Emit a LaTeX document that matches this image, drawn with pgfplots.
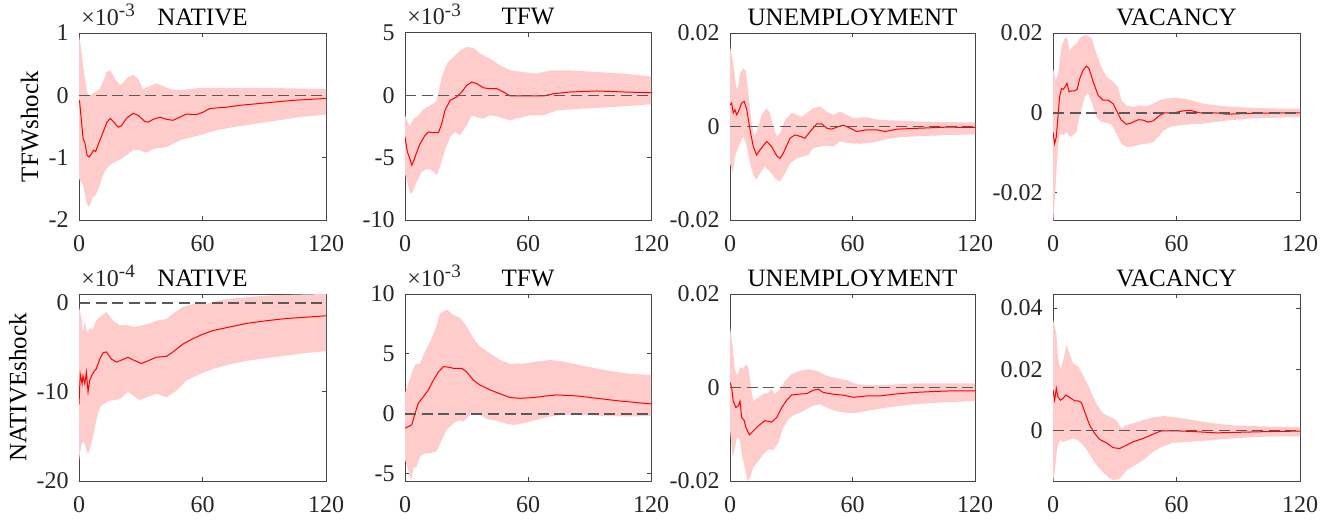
\documentclass[border=0pt]{standalone}
\usepackage{pgfplots}
\pgfplotsset{compat=1.18}
\usepgfplotslibrary{fillbetween}
\usepackage{fontspec}
\setmainfont{Liberation Serif}
\definecolor{bandpink}{RGB}{255,204,204}
\definecolor{axgray}{RGB}{70,70,70}
\pgfplotsset{
  irf/.style={
    scale only axis, height=93.5pt,
    xmin=0, xmax=120, xtick={0,60,120},
    axis line style={axgray, line width=0.5pt},
    tick style={axgray, line width=0.5pt},
    tick align=inside, major tick length=2pt,
    every tick label/.append style={font=\fontsize{12}{14}\selectfont, text=black!85, inner sep=0pt},
    xticklabel shift=7.5pt, yticklabel shift=5pt,
    scaled y ticks=false, scaled x ticks=false,
    /pgf/number format/assume math mode=true,
    every axis title/.style={font=\fontsize{12.5}{15}\selectfont, at={(axis description cs:0.5,1)}, anchor=base, yshift=4pt, inner sep=0pt},
    ylabel style={font=\fontsize{12.5}{15}\selectfont, anchor=base, inner sep=0pt},
  },
  zeroline/.style={black!65, line width=0.8pt, dash pattern=on 5.5pt off 2.8pt},
  medline/.style={red, line width=0.5pt},
  expo/.style={extra description/.code={
    \node[anchor=base west, inner sep=0pt, font=\fontsize{12}{14}\selectfont, text=black!85]
      at (axis description cs:0,1) [xshift=1pt, yshift=4pt] {×10\raisebox{4.2pt}{\fontsize{9.5}{11}\selectfont -#1}};}},
}
\begin{document}
\begin{tikzpicture}

% ---------------- Row 1: TFW shock ----------------
\begin{axis}[irf, at={(39.5pt,150.5pt)}, width=123.5pt, title={NATIVE}, ylabel={TFWshock},
  ylabel style={at={(axis description cs:-0.166,0.5)}},
  ymin=-2, ymax=1, ytick={-2,-1,0,1}, yticklabels={-2,-1,0,1}, expo=3]
\addplot[name path=U, draw=none] coordinates {(0,0.96) (1,0.75) (2,0.48) (3,0.25) (4,0.05) (5,-0.02) (6,0.02) (8,0.05) (10,0.1) (11.5,0.2) (13.3,0.37) (15,0.4) (16.5,0.33) (17.4,0.27) (19.8,0.17) (21.5,0.2) (23,0.27) (26.3,0.33) (28.7,0.27) (31,0.1) (34.4,0.15) (37.6,0.19) (40.9,0.15) (44,0.1) (49,0.08) (58.7,0.12) (75,0.12) (91,0.12) (120,0.1)};
\addplot[name path=L, draw=none] coordinates {(0,-1.34) (2,-1.44) (3.6,-1.71) (4.4,-1.79) (5.5,-1.75) (6.8,-1.63) (8,-1.6) (9.2,-1.52) (10.5,-1.4) (11.7,-1.28) (13.3,-1.18) (15,-1.12) (17.4,-1.07) (20.6,-1.02) (23,-0.96) (26.3,-0.88) (29.5,-0.88) (32.8,-0.92) (36,-0.86) (42.5,-0.83) (49,-0.72) (58.7,-0.64) (66.8,-0.56) (75,-0.51) (91,-0.43) (107,-0.35) (120,-0.31)};
\addplot[bandpink, draw=none] fill between[of=U and L];
\addplot[medline] coordinates {(0,-0.08) (0.3,-0.1) (2,-0.7) (2.8,-0.75) (3.9,-0.96) (4.9,-0.99) (6,-0.94) (7.1,-0.88) (8.1,-0.9) (9.2,-0.8) (11.7,-0.59) (13.6,-0.43) (15.2,-0.37) (16.9,-0.43) (19,-0.51) (20.6,-0.49) (23,-0.37) (26.3,-0.29) (28.7,-0.32) (32,-0.42) (33.6,-0.43) (36,-0.385) (39.3,-0.35) (42.5,-0.385) (45.7,-0.4) (49,-0.35) (52.2,-0.3) (57,-0.31) (60.3,-0.27) (63.6,-0.21) (71.7,-0.19) (78.2,-0.16) (91.2,-0.12) (104,-0.08) (120,-0.05)};
\addplot[zeroline] coordinates {(0,0) (120,0)};
\end{axis}

\begin{axis}[irf, at={(202.5pt,150.5pt)}, width=123pt, title={TFW},
  ymin=-10, ymax=5, ytick={-10,-5,0,5}, yticklabels={-10,-5,0,5}, expo=3]
\addplot[name path=U, draw=none] coordinates {(0,-1.6) (1.2,-2.1) (2.4,-2.5) (4,-1.9) (6.5,-1.6) (8.5,-1.2) (10.6,-0.94) (13.8,-0.67) (15.5,-0.4) (17.9,1.47) (20.4,2.54) (23.6,3.07) (26.9,3.6) (30.1,3.88) (33.4,3.8) (36.6,3.34) (41.5,2.94) (46.4,2.4) (51.3,2.0) (57.8,1.87) (64.3,1.74) (70.8,2.0) (80.6,2.0) (93.6,1.87) (106.6,1.74) (120,1.52)};
\addplot[name path=L, draw=none] coordinates {(0,-6.3) (2.4,-7.75) (3.3,-7.9) (5.7,-6.95) (8.1,-6.15) (10.6,-5.9) (13,-6.0) (15.5,-6.4) (17,-5.75) (19.5,-4.4) (22,-3.34) (24.4,-2.94) (26.9,-3.2) (30.1,-2.4) (32.6,-1.6) (35,-1.74) (38.3,-1.87) (41.5,-1.6) (44.8,-1.68) (48,-1.87) (51.3,-2.0) (54.5,-1.87) (61,-1.6) (67.6,-1.6) (74,-1.2) (87,-1.07) (106.6,-0.88) (120,-0.72)};
\addplot[bandpink, draw=none] fill between[of=U and L];
\addplot[medline] coordinates {(0,-3.34) (1.1,-4.5) (2.4,-5.1) (3.3,-5.6) (4.4,-5.2) (5.4,-4.7) (7.3,-3.9) (9.8,-3.2) (11.4,-2.94) (13.8,-3.0) (16.3,-3.0) (17.9,-2.3) (19.5,-1.2) (22,-0.4) (25.2,-0.13) (27.7,0.27) (30.1,0.8) (32.6,1.07) (35,0.94) (38.3,0.6) (41.5,0.53) (44.8,0.53) (48,0.27) (51.3,-0.05) (54.5,-0.05) (61,-0.05) (67.6,-0.05) (72.4,0.13) (80.6,0.27) (93.6,0.35) (106.6,0.27) (120,0.21)};
\addplot[zeroline] coordinates {(0,0) (120,0)};
\end{axis}

\begin{axis}[irf, at={(365pt,150.5pt)}, width=122.5pt, title={UNEMPLOYMENT},
  ymin=-0.02, ymax=0.02, ytick={-0.02,0,0.02}, yticklabels={-0.02,0,0.02}]
\addplot[name path=U, draw=none] coordinates {(0,17.1e-3) (1.6,13.6e-3) (2.9,8.6e-3) (3.8,7.9e-3) (4.9,11.4e-3) (6.5,12.5e-3) (7.8,11.8e-3) (9,7.1e-3) (10.6,0.7e-3) (11.9,-2.1e-3) (13,-1.1e-3) (15.5,2.5e-3) (18,3.9e-3) (19.6,2.9e-3) (21.2,0) (22.9,-2.1e-3) (24.5,-1.4e-3) (27,1.4e-3) (30.2,2.9e-3) (32.7,2.5e-3) (35.1,2.1e-3) (37.6,2.9e-3) (40.8,3.9e-3) (44.1,4.3e-3) (47.4,3.2e-3) (50.6,2.5e-3) (53.9,3.2e-3) (57.1,2.5e-3) (60.4,1.8e-3) (67,2.0e-3) (73.5,1.4e-3) (80,1.3e-3) (93,1.07e-3) (106,0.93e-3) (120,0.86e-3)};
\addplot[name path=L, draw=none] coordinates {(0,-7.9e-3) (1.3,-10e-3) (2.4,-6.4e-3) (3.6,-5.0e-3) (4.9,-3.6e-3) (6.5,-2.1e-3) (8.2,-4.3e-3) (9.8,-7.9e-3) (11.4,-10.4e-3) (13,-11.4e-3) (14.7,-10e-3) (17.1,-8.6e-3) (19.6,-9.6e-3) (22,-11.1e-3) (24.5,-11.8e-3) (27,-10e-3) (29.4,-7.9e-3) (32.7,-6.8e-3) (35.9,-6.4e-3) (38.4,-6.1e-3) (40.8,-4.6e-3) (44.1,-4.3e-3) (47.4,-4.1e-3) (50.6,-4.3e-3) (53.9,-3.2e-3) (58.8,-3.6e-3) (63.7,-3.7e-3) (70.2,-3.4e-3) (76.7,-2.7e-3) (83.3,-2.3e-3) (96.3,-2.0e-3) (109,-1.8e-3) (120,-1.7e-3)};
\addplot[bandpink, draw=none] fill between[of=U and L];
\addplot[medline] coordinates {(0,4.6e-3) (0.8,5.0e-3) (1.6,2.9e-3) (2.4,3.6e-3) (3.3,2.5e-3) (4.1,3.2e-3) (5.7,5.0e-3) (6.9,5.4e-3) (8.2,3.6e-3) (9.8,-0.7e-3) (11.4,-4.3e-3) (13,-6.1e-3) (14.7,-5.0e-3) (18,-3.2e-3) (20.4,-4.3e-3) (22.9,-6.3e-3) (24.5,-6.8e-3) (26.1,-5.7e-3) (29.4,-2.5e-3) (31.8,-1.8e-3) (34.3,-2.1e-3) (36.7,-2.5e-3) (39.2,-1.1e-3) (42.5,0.57e-3) (44.9,0.57e-3) (47.4,-0.36e-3) (49.8,-0.57e-3) (52.3,-0.14e-3) (55.5,0.29e-3) (58.8,-0.36e-3) (62,-1.07e-3) (67,-0.7e-3) (71.8,-0.7e-3) (76,-1.07e-3) (81.6,-0.57e-3) (93,-0.36e-3) (106,-0.14e-3) (120,-0.2e-3)};
\addplot[zeroline] coordinates {(0,0) (120,0)};
\end{axis}

\begin{axis}[irf, at={(526.5pt,150.5pt)}, width=123.5pt, title={VACANCY},
  ymin=-0.0268, ymax=0.02, ytick={-0.02,0,0.02}, yticklabels={-0.02,0,0.02}]
\addplot[name path=U, draw=none] coordinates {(0,11.1e-3) (1.3,8.2e-3) (2.4,9.5e-3) (4.1,16.6e-3) (5.7,18.7e-3) (6.8,18.7e-3) (8.1,15.7e-3) (9.7,16.6e-3) (11.4,17.4e-3) (13.8,19.1e-3) (16.2,19.5e-3) (18.7,18.7e-3) (21.1,14.9e-3) (23.5,11.5e-3) (26,9.0e-3) (29.2,7.8e-3) (31.6,6.5e-3) (33.2,3.2e-3) (35.7,1.9e-3) (38.9,1.5e-3) (42.2,1.9e-3) (45.4,1.7e-3) (48.6,2.3e-3) (51.9,3.2e-3) (55.1,3.6e-3) (60,3.8e-3) (66.5,3.3e-3) (73,2.3e-3) (82.7,1.7e-3) (95.7,1.3e-3) (108.6,1.1e-3) (120,1.1e-3)};
\addplot[name path=L, draw=none] coordinates {(0,-28e-3) (0.8,-22e-3) (1.6,-15.2e-3) (2.4,-8.5e-3) (3.2,-5.2e-3) (4.9,-5.6e-3) (6.5,-4.8e-3) (8.1,-6.0e-3) (9.7,-5.6e-3) (11.4,-4.8e-3) (13,-0.6e-3) (15.4,4.0e-3) (17,4.9e-3) (18.7,2.8e-3) (21.1,-1.0e-3) (23.5,-2.3e-3) (26,-2.5e-3) (28.4,-2.85e-3) (30.8,-5.2e-3) (33.2,-7.7e-3) (35.7,-8.5e-3) (38.9,-8.4e-3) (42.2,-7.9e-3) (45.4,-7.7e-3) (48.6,-7.3e-3) (51.1,-6.0e-3) (53.5,-4.5e-3) (56.8,-3.5e-3) (61.6,-3.1e-3) (66.5,-2.85e-3) (73,-2.7e-3) (82.7,-2.0e-3) (95.7,-1.4e-3) (108.6,-1.2e-3) (120,-1.0e-3)};
\addplot[bandpink, draw=none] fill between[of=U and L];
\addplot[medline] coordinates {(0,-4.8e-3) (0.8,-7.7e-3) (1.6,-6.0e-3) (2.4,-1.0e-3) (3.2,4.0e-3) (4.1,6.1e-3) (4.9,5.9e-3) (5.7,6.4e-3) (6.8,7.4e-3) (7.8,5.3e-3) (8.9,5.5e-3) (10.5,5.5e-3) (11.7,5.9e-3) (13,8.6e-3) (14.6,10.7e-3) (16.2,11.7e-3) (17.5,11.1e-3) (19.5,7.8e-3) (21.9,4.4e-3) (24.3,3.2e-3) (26.8,3.2e-3) (29.2,2.3e-3) (30.8,0.67e-3) (33.2,-1.8e-3) (35.7,-2.85e-3) (38.1,-2.5e-3) (41.4,-1.7e-3) (43.8,-1.8e-3) (46.2,-2.3e-3) (48.6,-2.0e-3) (51.9,-0.6e-3) (54.3,0) (58.4,0) (63.2,0.5e-3) (66.5,0.67e-3) (71.4,0) (79.5,0) (84.3,-0.33e-3) (92.5,-0.17e-3) (107,0) (120,0)};
\addplot[zeroline] coordinates {(0,0) (120,0)};
\end{axis}

% ---------------- Row 2: NATIVE shock ----------------
\begin{axis}[irf, at={(39.5pt,20pt)}, width=123.5pt, title={NATIVE}, ylabel={NATIVEshock},
  ylabel style={at={(axis description cs:-0.213,0.5)}},
  ymin=-20, ymax=1, ytick={-20,-10,0}, yticklabels={-20,-10,0}, expo=4]
\addplot[name path=U, draw=none] coordinates {(0,-0.45) (1.1,-1.6) (1.9,-3.3) (2.8,-2.1) (3.9,-3.3) (5.2,-2.9) (6.8,-2.9) (8.4,-2.0) (10.1,-1.6) (13.3,-1.0) (16.5,-2.0) (19.8,-2.5) (23,-2.5) (27,-2.7) (31.1,-2.5) (34.4,-2.3) (37.6,-2.0) (42.5,-1.8) (45.7,-1.2) (50.6,-0.45) (55.5,-0.1) (62,-0.1) (68.4,0.3) (75,0.5) (84.6,0.7) (94.4,0.86) (107.3,0.94) (120,1.0)};
\addplot[name path=L, draw=none] coordinates {(0,-17.7) (1.1,-15.9) (2.3,-15.5) (3.2,-16.2) (4.4,-17.0) (5.5,-16.2) (6.8,-15.1) (8.4,-13.2) (10.1,-11.7) (11.7,-11.4) (15,-11.0) (19.8,-10.8) (23.8,-10.0) (26.3,-10.4) (29.5,-10.9) (32.8,-10.6) (37.6,-10.2) (42.5,-10.6) (47.4,-9.85) (52.2,-8.7) (58.7,-8.0) (65.2,-7.4) (75,-6.8) (84.6,-6.4) (94.4,-6.1) (107.3,-5.7) (120,-5.4)};
\addplot[bandpink, draw=none] fill between[of=U and L];
\addplot[medline] coordinates {(0,-11.4) (0.6,-8.0) (1.5,-9.1) (1.9,-8.2) (2.8,-9.1) (3.6,-7.8) (4.4,-10.0) (5.2,-8.7) (6.5,-8.0) (7.6,-7.6) (8.4,-7.4) (10.1,-6.3) (11.7,-5.6) (13.3,-5.5) (15.7,-6.3) (18.2,-6.65) (21.4,-6.35) (23.8,-6.1) (26.3,-6.4) (30.3,-6.8) (33.6,-6.5) (37.6,-6.1) (42.5,-6.0) (45.7,-5.5) (50.6,-4.6) (55.5,-4.0) (60.3,-3.5) (65.2,-3.1) (73.3,-2.7) (81.4,-2.3) (91.1,-2.0) (100.8,-1.75) (110.5,-1.6) (120,-1.45)};
\addplot[zeroline] coordinates {(0,0) (120,0)};
\end{axis}

\begin{axis}[irf, at={(202.5pt,20pt)}, width=123pt, title={TFW},
  ymin=-5.6, ymax=10, ytick={-5,0,5,10}, yticklabels={-5,0,5,10}, expo=3]
\addplot[name path=U, draw=none] coordinates {(0,1.7) (1.6,2.55) (3.3,3.4) (4.9,4.1) (7.3,4.2) (9.8,5.2) (12.2,6.0) (14.7,7.0) (17.1,8.4) (20.4,8.7) (23.6,8.25) (26.9,8.0) (30.1,7.3) (33.4,6.3) (36.6,5.6) (41.5,5.05) (46.4,4.5) (51.3,4.17) (57.8,4.2) (64.3,4.36) (70.8,4.5) (77.3,4.36) (87.1,4.0) (96.9,3.67) (109.9,3.33) (120,3.25)};
\addplot[name path=L, draw=none] coordinates {(0,-3.8) (1.6,-4.7) (2.9,-5.6) (4.1,-4.5) (5.7,-4.4) (7.3,-3.55) (9.8,-3.3) (12.2,-3.3) (15.5,-3.1) (17.9,-2.2) (20.4,-1.3) (23.6,-0.8) (26,-0.55) (28.5,-0.64) (30.9,-0.22) (33.4,0.05) (36.6,-0.08) (39.9,-0.44) (44.8,-0.58) (49.7,-0.83) (52.9,-0.92) (57.8,-0.78) (64.3,-0.5) (70.8,-0.22) (77.3,-0.08) (87.1,-0.08) (96.9,-0.17) (109.9,-0.22) (120,-0.17)};
\addplot[bandpink, draw=none] fill between[of=U and L];
\addplot[medline] coordinates {(0,-1.2) (2.4,-1.0) (3.3,-0.9) (4.9,0.05) (6.5,0.9) (9,1.44) (11.4,2.0) (13.8,2.8) (16.3,3.5) (18.7,3.94) (21.2,3.9) (23.6,3.8) (27.7,3.8) (30.1,3.5) (33.4,2.8) (36.6,2.4) (41.5,2.0) (46.4,1.67) (51.3,1.36) (56.2,1.3) (62.7,1.36) (69.2,1.5) (74,1.58) (83.8,1.5) (93.6,1.3) (103.4,1.1) (113,0.94) (120,0.83)};
\addplot[zeroline] coordinates {(0,0) (120,0)};
\end{axis}

\begin{axis}[irf, at={(365pt,20pt)}, width=122.5pt, title={UNEMPLOYMENT},
  ymin=-0.02, ymax=0.02, ytick={-0.02,0,0.02}, yticklabels={-0.02,0,0.02}]
\addplot[name path=U, draw=none] coordinates {(0,12.9e-3) (1.3,8.6e-3) (2.4,3.9e-3) (3.6,2.5e-3) (4.9,4.3e-3) (6.5,4.1e-3) (7.8,5.0e-3) (9,4.3e-3) (10.1,0.7e-3) (11.4,-2.9e-3) (13.9,-2.1e-3) (16.3,-1.4e-3) (18.8,-1.07e-3) (20.4,-0.36e-3) (22,-1.4e-3) (24.5,-0.36e-3) (26.9,1.4e-3) (30.2,2.9e-3) (34.3,3.6e-3) (38.4,3.9e-3) (42.5,3.6e-3) (47.4,2.5e-3) (52.2,2.0e-3) (57.1,1.6e-3) (62,0.7e-3) (67,0.57e-3) (76.7,0.57e-3) (89.8,0.86e-3) (102.9,0.86e-3) (120,0.86e-3)};
\addplot[name path=L, draw=none] coordinates {(0,-9e-3) (1.3,-15e-3) (2.4,-12.9e-3) (3.6,-10.4e-3) (4.9,-11.4e-3) (5.7,-14.3e-3) (7.3,-17.1e-3) (8.5,-20e-3) (9.8,-19.3e-3) (11.4,-17.1e-3) (13.9,-15.7e-3) (16.3,-14.3e-3) (18.8,-13.2e-3) (21.2,-13.4e-3) (23.7,-11.8e-3) (26.1,-8.6e-3) (28.6,-6.8e-3) (31,-5.9e-3) (34.3,-5.4e-3) (37.6,-4.6e-3) (40.8,-3.9e-3) (44.1,-3.6e-3) (47.4,-4.3e-3) (52.2,-5.1e-3) (57.1,-5.4e-3) (62,-5.4e-3) (67,-5.0e-3) (76.7,-4.3e-3) (89.8,-3.6e-3) (102.9,-3.2e-3) (120,-2.9e-3)};
\addplot[bandpink, draw=none] fill between[of=U and L];
\addplot[medline] coordinates {(0,1.07e-3) (0.8,0) (1.6,-2.9e-3) (2.9,-4.3e-3) (4.1,-3.9e-3) (4.9,-2.9e-3) (5.7,-6.4e-3) (6.9,-7.0e-3) (7.8,-8.6e-3) (9.5,-10.1e-3) (11.4,-9.3e-3) (13.9,-8.2e-3) (17.1,-7.1e-3) (20.4,-7.4e-3) (22.9,-6.4e-3) (25.3,-4.3e-3) (27.8,-2.7e-3) (30.2,-1.6e-3) (34.3,-1.4e-3) (37.6,-1.3e-3) (40.8,-0.57e-3) (43.3,-0.36e-3) (45.7,-1.07e-3) (50.6,-1.43e-3) (55.5,-1.64e-3) (60.4,-2.1e-3) (67,-1.8e-3) (73.5,-1.8e-3) (80,-1.43e-3) (89.8,-1.07e-3) (99.6,-0.86e-3) (109.4,-0.7e-3) (120,-0.7e-3)};
\addplot[zeroline] coordinates {(0,0) (120,0)};
\end{axis}

\begin{axis}[irf, at={(526.5pt,20pt)}, width=123.5pt, title={VACANCY},
  ymin=-0.0165, ymax=0.0446, ytick={0,0.02,0.04}, yticklabels={0,0.02,0.04}]
\addplot[name path=U, draw=none] coordinates {(0,36.2e-3) (1.6,31.8e-3) (2.4,24.2e-3) (3.6,19.8e-3) (5.2,23.6e-3) (6.5,28.0e-3) (8.1,25.2e-3) (9.7,22.0e-3) (12.2,20.9e-3) (14.6,18.1e-3) (17,14.9e-3) (19.5,11.0e-3) (21.9,7.8e-3) (24.3,5.6e-3) (27.6,4.5e-3) (30.8,3.4e-3) (33.2,0.66e-3) (35.7,1.75e-3) (38.9,2.3e-3) (43.8,3.4e-3) (48.6,4.3e-3) (53.5,4.7e-3) (60,4.3e-3) (66.5,3.6e-3) (76.2,2.5e-3) (86,1.75e-3) (98.9,1.4e-3) (110.3,1.2e-3) (120,1.2e-3)};
\addplot[name path=L, draw=none] coordinates {(0,-17e-3) (1.1,-11.9e-3) (1.9,-6.4e-3) (3.2,-3.2e-3) (4.9,-3.7e-3) (7.3,-3.2e-3) (9.7,-2.6e-3) (12.2,-3.2e-3) (14.6,-4.8e-3) (17,-7.0e-3) (19.5,-9.7e-3) (21.9,-11.9e-3) (24.3,-13.6e-3) (26.8,-15.2e-3) (29.2,-16.3e-3) (32.4,-15.7e-3) (35.7,-13.0e-3) (38.9,-11.7e-3) (43.8,-9.7e-3) (48.6,-7.0e-3) (52.7,-5.4e-3) (58.4,-4.0e-3) (66.5,-3.7e-3) (76.2,-3.2e-3) (86,-2.6e-3) (98.9,-2.1e-3) (110.3,-1.9e-3) (120,-1.9e-3)};
\addplot[bandpink, draw=none] fill between[of=U and L];
\addplot[medline] coordinates {(0,13.2e-3) (0.8,9.9e-3) (1.6,13.8e-3) (2.4,11.0e-3) (3.6,9.9e-3) (4.9,10.5e-3) (6.2,11.6e-3) (8.1,10.8e-3) (10.5,9.7e-3) (12.2,9.7e-3) (13.8,9.1e-3) (15.4,6.1e-3) (17.8,1.75e-3) (20.3,-1.0e-3) (22.7,-2.95e-3) (25.9,-4.0e-3) (29.2,-5.6e-3) (32.4,-5.9e-3) (35.7,-4.8e-3) (38.9,-3.7e-3) (43.8,-2.6e-3) (48.6,-1.2e-3) (52.7,-0.1e-3) (60,-0.1e-3) (69.7,-0.4e-3) (79.5,-0.77e-3) (92.4,-0.55e-3) (105.4,-0.33e-3) (120,-0.2e-3)};
\addplot[zeroline] coordinates {(0,0) (120,0)};
\end{axis}
\pgfresetboundingbox
\useasboundingbox (0,0) rectangle (666pt,260.5pt);
\end{tikzpicture}
\end{document}
